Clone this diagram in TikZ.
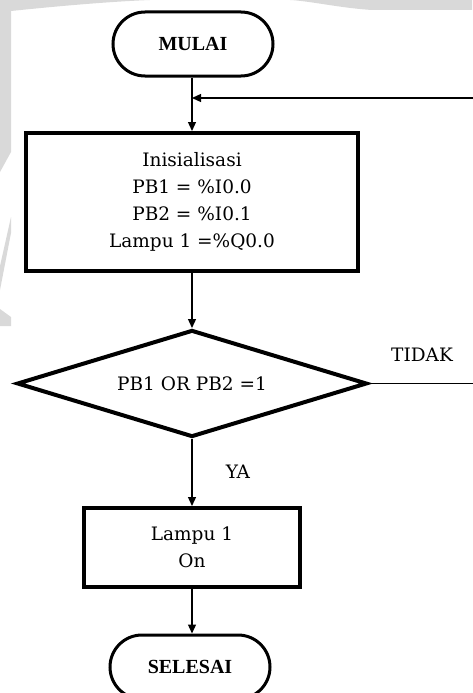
\documentclass[tikz,border=0pt]{standalone}
\usepackage{fontspec}
\setmainfont{DejaVu Serif}
\newfontfamily\termfont{Liberation Serif}
\usetikzlibrary{arrows.meta,shapes.geometric,shapes.misc}
\definecolor{wmgray}{HTML}{D9D9D9}
\tikzset{
  txt/.style={font=\fontsize{18.5}{27}\selectfont},
  terminal/.style={rounded rectangle, draw, line width=3pt, minimum width=160pt,
    minimum height=64pt, inner sep=0pt, font=\termfont\bfseries\fontsize{20}{22}\selectfont},
  process/.style={rectangle, draw, line width=4pt, inner sep=0pt, align=center, txt},
  decision/.style={diamond, draw, line width=4pt, aspect=3.27, minimum width=350pt,
    minimum height=107pt, inner sep=0pt, txt},
  flow/.style={line width=1.3pt, -{Triangle[length=9pt,width=8pt]}},
  plainline/.style={line width=1.3pt},
  lbl/.style={txt, inner sep=0pt}
}
\begin{document}
\begin{tikzpicture}[x=1pt,y=-1pt]
\useasboundingbox (0,0) rectangle (472,693);
% faint background mark along the top and left edges
\fill[wmgray] (0,0) -- (472,0) -- (472,10) -- (372,10)
  .. controls (340,8) and (310,1) .. (290,0) -- (150,0)
  .. controls (100,2) and (40,8) .. (11,11) -- (11,152) -- (0,172) -- cycle;
\fill[wmgray] (11,217) -- (11,233) -- (0,290) -- (0,266) -- cycle;
\fill[wmgray] (0,309) -- (11,317) -- (11,326) -- (0,326) -- cycle;

% flowchart
\node[terminal] (mulai) at (193,44) {MULAI};
\node[process, minimum width=332pt, minimum height=138pt] (init) at (192,202)
  {Inisialisasi\\PB1 = \%I0.0\\PB2 = \%I0.1\\Lampu 1 =\%Q0.0};
\node[decision] (cek) at (192,383.5) {PB1 OR PB2 =1};
\node[process, minimum width=216pt, minimum height=79pt] (lampu) at (192,547.5)
  {Lampu 1\\On};
\node[terminal] (selesai) at (190,667) {SELESAI};

\coordinate (join) at (192,98);
\coordinate (outR) at (478,383.5);
\coordinate (outT) at (478,98);

\draw[plainline] (mulai.south -| join) -- (join);
\draw[flow] (join) -- (init.north -| join);
\draw[flow] (init.south -| cek) -- (cek.north);
\draw[flow] (cek.south) -- (lampu.north);
\draw[flow] (lampu.south) -- (selesai.north -| lampu.south);
\draw[flow] (cek.east) -- (outR) -- (outT) -- (join);

\node[lbl] (tidak) at (422,355) {TIDAK};
\node[lbl] (ya) at (238,472) {YA};
\end{tikzpicture}
\end{document}
